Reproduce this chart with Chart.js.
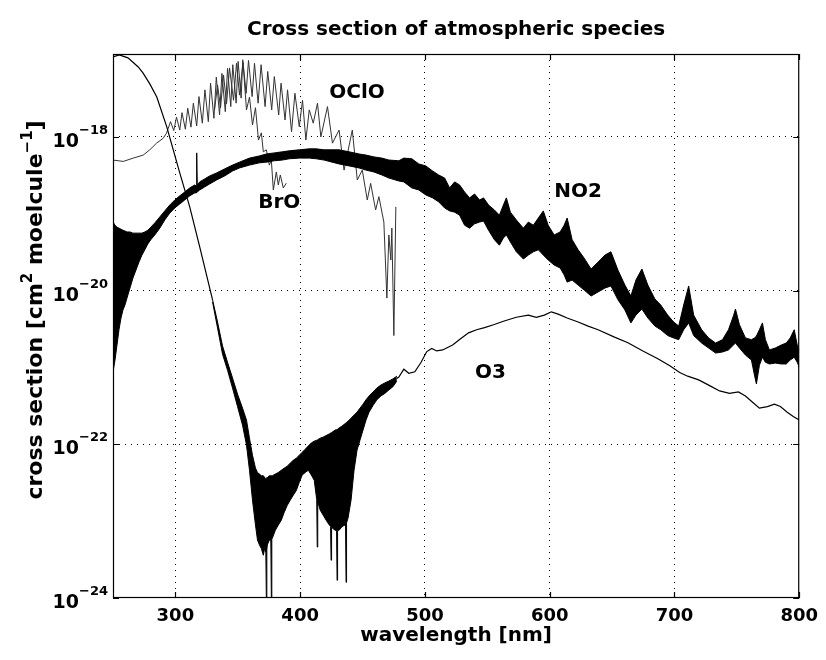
<!DOCTYPE html>
<html>
<head>
<meta charset="utf-8">
<script src="https://cdn.jsdelivr.net/npm/chart.js@4.4.0/dist/chart.umd.min.js"></script>
<style>
body { margin: 0; background: #fff; }
#wrap { width: 826px; height: 660px; }
</style>
</head>
<body>
<div id="wrap"><canvas id="chart" width="826" height="660"></canvas></div>
<script>
// ---- data (wavelength in nm, cross section in cm^2/molecule) ----
var xTicks = [300, 400, 500, 600, 700, 800];
var yTicks = [1e-24, 1e-22, 1e-20, 1e-18];
var yTickExp = ['\u221224', '\u221222', '\u221220', '\u221218'];

// NO2 : noisy band, upper and lower edge
var no2Wl = [250.0, 251.6, 253.2, 254.8, 256.4, 258.0, 259.6, 261.2, 263.6, 266.0,
	268.4, 270.8, 273.2, 275.5, 277.9, 280.3, 283.5, 287.5, 291.5, 295.5,
	299.5, 303.5, 307.5, 311.5, 315.5, 316.7, 317.1, 317.5, 319.5, 323.4,
	327.4, 333.0, 339.4, 345.8, 351.4, 359.4, 367.3, 372.9, 379.3, 385.7,
	391.3, 399.3, 407.3, 412.8, 419.2, 425.6, 431.2, 439.2, 447.2, 452.8,
	459.1, 465.5, 471.1, 479.1, 483.1, 489.5, 495.1, 500.7, 506.2, 511.0,
	515.8, 519.8, 523.8, 527.8, 531.8, 535.8, 539.8, 543.8, 547.0, 551.0,
	555.7, 559.7, 562.9, 565.3, 568.5, 573.3, 578.9, 582.9, 586.9, 590.9,
	594.9, 598.8, 603.6, 608.4, 611.6, 614.0, 618.0, 622.8, 627.6, 633.2,
	638.8, 644.3, 649.1, 654.7, 660.3, 665.1, 669.1, 673.9, 678.7, 684.3,
	689.0, 694.6, 699.4, 703.4, 707.4, 711.4, 715.4, 721.8, 727.4, 733.0,
	738.5, 743.3, 747.3, 748.9, 752.1, 756.9, 761.7, 764.1, 765.7, 768.1,
	770.5, 772.9, 776.1, 780.8, 785.6, 789.6, 792.8, 796.0, 798.4, 800.0];
var no2Hi = [7.8e-20, 7.1e-20, 6.7e-20, 6.5e-20, 6.3e-20, 6.1e-20, 5.97e-20, 5.8e-20, 5.8e-20, 5.6e-20,
	5.6e-20, 5.6e-20, 5.6e-20, 5.8e-20, 6.1e-20, 6.7e-20, 7.6e-20, 9.1e-20, 1.09e-19, 1.30e-19,
	1.51e-19, 1.71e-19, 1.92e-19, 2.17e-19, 2.37e-19, 2.3e-19, 6.2e-19, 2.37e-19, 2.6e-19, 2.84e-19,
	3.1e-19, 3.4e-19, 3.83e-19, 4.3e-19, 4.7e-19, 5.3e-19, 5.66e-19, 6.0e-19, 6.2e-19, 6.4e-19,
	6.6e-19, 6.8e-19, 7.0e-19, 7.0e-19, 6.8e-19, 6.8e-19, 6.8e-19, 6.4e-19, 6.0e-19, 5.8e-19,
	5.5e-19, 5.3e-19, 5.0e-19, 4.9e-19, 5.3e-19, 5.2e-19, 4.45e-19, 4.2e-19, 3.6e-19, 3.2e-19,
	2.92e-19, 2.17e-19, 2.6e-19, 2.37e-19, 1.92e-19, 1.61e-19, 1.81e-19, 1.51e-19, 1.61e-19, 1.30e-19,
	1.12e-19, 9.6e-20, 1.30e-19, 1.61e-19, 1.05e-19, 8.3e-20, 6.5e-20, 7.8e-20, 7.1e-20, 8.8e-20,
	1.09e-19, 7.1e-20, 5.3e-20, 5.8e-20, 7.1e-20, 8.8e-20, 4.6e-20, 3.4e-20, 2.65e-20, 1.91e-20,
	2.35e-20, 2.9e-20, 3.2e-20, 1.85e-20, 1.18e-20, 8.5e-21, 1.37e-20, 1.91e-20, 1.18e-20, 7.8e-21,
	6.5e-21, 4.8e-21, 3.9e-21, 3.46e-21, 6.5e-21, 1.15e-20, 4.8e-21, 3.1e-21, 2.42e-21, 2.08e-21,
	2.3e-21, 3.1e-21, 4.7e-21, 5.75e-21, 3.6e-21, 2.42e-21, 2.3e-21, 2.42e-21, 2.56e-21, 3.1e-21,
	3.8e-21, 2.3e-21, 1.69e-21, 1.79e-21, 1.96e-21, 2.08e-21, 2.42e-21, 3.1e-21, 1.96e-21, 1.69e-21];
var no2Lo = [8.7e-22, 1.25e-21, 1.96e-21, 3.1e-21, 4.4e-21, 5.6e-21, 6.5e-21, 8.0e-21, 1.08e-20, 1.46e-20,
	1.85e-20, 2.35e-20, 2.9e-20, 3.4e-20, 4.05e-20, 4.6e-20, 5.3e-20, 6.5e-20, 8.3e-20, 1.02e-19,
	1.19e-19, 1.34e-19, 1.51e-19, 1.71e-19, 1.87e-19, 1.87e-19, 1.87e-19, 1.92e-19, 2.04e-19, 2.23e-19,
	2.44e-19, 2.75e-19, 3.1e-19, 3.6e-19, 3.95e-19, 4.3e-19, 4.6e-19, 4.7e-19, 4.9e-19, 5.0e-19,
	5.2e-19, 5.3e-19, 5.3e-19, 5.2e-19, 5.0e-19, 4.7e-19, 4.45e-19, 4.2e-19, 3.95e-19, 3.7e-19,
	3.5e-19, 3.2e-19, 2.92e-19, 2.67e-19, 2.6e-19, 2.17e-19, 2.04e-19, 1.76e-19, 1.61e-19, 1.43e-19,
	1.19e-19, 1.09e-19, 1.05e-19, 9.6e-20, 7.1e-20, 6.5e-20, 7.4e-20, 7.8e-20, 8.05e-20, 6.1e-20,
	4.6e-20, 3.9e-20, 4.85e-20, 5.3e-20, 4.3e-20, 3.2e-20, 2.58e-20, 2.9e-20, 3.2e-20, 3.4e-20,
	2.9e-20, 2.5e-20, 2.15e-20, 1.97e-20, 1.6e-20, 1.29e-20, 1.37e-20, 1.18e-20, 1.02e-20, 8.5e-21,
	9.6e-21, 1.08e-20, 1.15e-20, 7.6e-21, 5.6e-21, 3.8e-21, 4.8e-21, 5.75e-21, 4.4e-21, 3.46e-21,
	3.1e-21, 2.6e-21, 2.42e-21, 2.3e-21, 3.1e-21, 3.8e-21, 2.6e-21, 2.08e-21, 1.79e-21, 1.54e-21,
	1.59e-21, 1.69e-21, 1.96e-21, 2.08e-21, 1.79e-21, 1.45e-21, 1.25e-21, 8.0e-22, 6.1e-22, 1.07e-21,
	1.36e-21, 1.17e-21, 1.11e-21, 1.14e-21, 1.11e-21, 1.11e-21, 1.25e-21, 1.36e-21, 1.17e-21, 1.01e-21];

// O3 : Hartley band (smooth), Huggins band (noisy), Chappuis band (smooth)
var o3UvWl = [250.0, 255.0, 262.0, 270.0, 274.0, 279.5, 285.1, 293.1, 303.5, 311.5, 319.5, 329.8];
var o3UvSigma = [1.1e-17, 1.17e-17, 1.07e-17, 8.2e-18, 6.8e-18, 4.9e-18, 3.3e-18, 1.35e-18, 3.4e-19, 1.23e-19, 3.7e-20, 7.6e-21];

var o3BandWl = [329.8, 333.8, 337.8, 341.8, 345.8, 349.8, 353.8, 357.0, 359.4, 361.8,
	364.2, 365.8, 367.4, 368.9, 370.5, 372.1, 372.5, 372.9, 373.3, 373.7,
	375.3, 376.5, 376.9, 377.3, 377.7, 380.1, 382.5, 384.9, 387.3, 389.7,
	392.1, 394.5, 396.9, 399.3, 401.7, 404.1, 406.5, 408.9, 411.3, 413.3,
	413.7, 414.1, 416.0, 418.4, 420.8, 423.2, 424.4, 424.8, 425.2, 428.0,
	429.2, 429.6, 430.0, 431.2, 433.6, 436.4, 436.8, 437.2, 438.4, 440.8,
	443.2, 445.6, 448.0, 450.4, 452.8, 455.2, 458.4, 461.5, 464.7, 467.9,
	471.1, 474.3, 477.5];
var o3BandHi = [7.6e-21, 3.9e-21, 1.9e-21, 1.17e-21, 7.3e-22, 4.5e-22, 2.96e-22, 2.07e-22, 1.2e-22, 7.2e-23,
	4.9e-23, 4.3e-23, 4.1e-23, 3.9e-23, 3.9e-23, 3.6e-23, 3.6e-23, 3.6e-23, 3.7e-23, 3.7e-23,
	3.9e-23, 3.9e-23, 3.9e-23, 3.9e-23, 3.9e-23, 4.1e-23, 4.3e-23, 4.6e-23, 4.9e-23, 5.2e-23,
	5.7e-23, 6.2e-23, 6.6e-23, 7.2e-23, 7.9e-23, 8.65e-23, 9.5e-23, 1.04e-22, 1.10e-22, 1.13e-22,
	1.14e-22, 1.15e-22, 1.2e-22, 1.24e-22, 1.30e-22, 1.36e-22, 1.40e-22, 1.41e-22, 1.42e-22, 1.53e-22,
	1.55e-22, 1.56e-22, 1.58e-22, 1.63e-22, 1.73e-22, 1.88e-22, 1.9e-22, 1.93e-22, 2.0e-22, 2.19e-22,
	2.4e-22, 2.62e-22, 2.96e-22, 3.33e-22, 3.8e-22, 4.25e-22, 4.8e-22, 5.4e-22, 5.9e-22, 6.3e-22,
	6.65e-22, 7.1e-22, 7.7e-22];
var o3BandLo = [7.1e-21, 3.26e-21, 1.49e-21, 9.2e-22, 5.4e-22, 3.1e-22, 1.78e-22, 9.8e-23, 4.6e-23, 1.88e-23,
	8.9e-24, 5.7e-24, 4.9e-24, 4.4e-24, 3.6e-24, 4.9e-24, 4.0e-24, 1.0e-24, 4.2e-24, 4.9e-24,
	5.7e-24, 5.5e-24, 1.0e-24, 5.8e-24, 6.0e-24, 7.6e-24, 8.9e-24, 1.03e-23, 1.31e-23, 1.61e-23,
	1.88e-23, 2.18e-23, 2.5e-23, 3.2e-23, 4.0e-23, 4.3e-23, 4.6e-23, 4.0e-23, 3.4e-23, 1.9e-23,
	4.6e-24, 1.8e-23, 1.4e-23, 1.2e-23, 1.03e-23, 9.0e-24, 8.5e-24, 3.1e-24, 8.3e-24, 7.6e-24,
	7.6e-24, 1.7e-24, 7.6e-24, 7.6e-24, 8.5e-24, 9.0e-24, 1.6e-24, 9.5e-24, 1.1e-23, 1.88e-23,
	4.6e-23, 8.4e-23, 1.14e-22, 1.53e-22, 2.07e-22, 2.62e-22, 3.2e-22, 3.8e-22, 4.25e-22, 4.6e-22,
	5.1e-22, 5.6e-22, 6.65e-22];

var o3VisWl = [477.5, 479.1, 483.1, 487.1, 491.9, 496.7, 501.5, 505.5, 509.4, 514.2,
	522.2, 528.6, 535.0, 541.4, 547.8, 555.0, 562.9, 573.3, 582.9, 589.3,
	595.7, 601.3, 606.8, 614.0, 622.8, 630.8, 638.8, 651.5, 662.7, 674.7,
	686.7, 696.3, 704.2, 710.6, 719.4, 728.2, 736.2, 744.1, 751.3, 756.9,
	763.3, 768.1, 774.5, 780.1, 784.9, 790.4, 795.2, 800.0];
var o3VisSigma = [7.2e-22, 7.5e-22, 9.5e-22, 8.4e-22, 8.8e-22, 1.15e-21, 1.61e-21, 1.77e-21, 1.64e-21, 1.69e-21,
	1.96e-21, 2.36e-21, 2.82e-21, 3.1e-21, 3.3e-21, 3.6e-21, 4.0e-21, 4.5e-21, 4.8e-21, 4.5e-21,
	4.8e-21, 5.3e-21, 4.95e-21, 4.4e-21, 3.9e-21, 3.45e-21, 3.1e-21, 2.5e-21, 2.1e-21, 1.64e-21,
	1.3e-21, 1.05e-21, 8.6e-22, 7.7e-22, 6.9e-22, 5.8e-22, 4.95e-22, 4.6e-22, 4.8e-22, 4.25e-22,
	3.45e-22, 2.96e-22, 3.1e-22, 3.33e-22, 3.1e-22, 2.62e-22, 2.3e-22, 2.07e-22];

// OClO
var ocloWl = [250.0, 258.2, 266.2, 274.2, 279.5, 284.9, 290.2, 292.9, 296.1, 298.7,
	300.9, 303.5, 305.3, 308.0, 309.9, 312.5, 314.4, 317.1, 318.9, 321.6,
	323.7, 326.4, 328.2, 330.9, 332.8, 335.4, 337.3, 340.0, 341.8, 344.4,
	346.0, 348.7, 350.3, 352.7, 354.0, 356.7, 358.6, 361.5, 363.4, 366.3,
	368.7, 371.9, 374.0, 377.2, 379.3, 382.8, 384.7, 387.9, 389.9, 393.1,
	395.8, 399.3, 401.9, 404.6, 407.3, 410.5, 413.9, 416.6, 421.9, 425.9,
	431.2, 435.2, 441.8, 445.8, 449.8, 453.8, 456.5, 460.5, 463.1, 467.1,
	469.5, 471.1, 472.7, 473.5, 475.1, 476.7];
var ocloSigma = [5.0e-19, 4.8e-19, 5.3e-19, 5.8e-19, 6.8e-19, 8.3e-19, 9.6e-19, 1.12e-18, 1.58e-18, 1.21e-18,
	1.81e-18, 1.23e-18, 2.07e-18, 1.26e-18, 2.36e-18, 1.34e-18, 2.75e-18, 1.39e-18, 3.35e-18, 1.51e-18,
	4.1e-18, 1.58e-18, 5.0e-18, 1.75e-18, 6.0e-18, 1.93e-18, 6.7e-18, 2.13e-18, 7.8e-18, 2.48e-18,
	8.7e-18, 2.75e-18, 9.6e-18, 3.2e-18, 1.01e-17, 3.7e-18, 9.9e-18, 3.35e-18, 9.1e-18, 2.75e-18,
	8.7e-18, 2.48e-18, 7.1e-18, 2.25e-18, 6.1e-18, 1.93e-18, 5.0e-18, 1.66e-18, 4.1e-18, 1.17e-18,
	3.7e-18, 1.36e-18, 3.0e-18, 9.1e-19, 2.25e-18, 1.51e-18, 2.75e-18, 1.0e-18, 2.48e-18, 8.3e-19,
	1.23e-18, 3.7e-19, 1.23e-18, 2.75e-19, 3.7e-19, 1.51e-19, 2.49e-19, 1.12e-19, 1.67e-19, 7.8e-20,
	8.0e-21, 5.3e-20, 2.5e-20, 6.5e-20, 2.6e-21, 1.23e-19];

// BrO
var broWl = [331.4, 333.8, 336.2, 338.6, 341.0, 343.4, 346.6, 349.0, 351.4, 354.2,
	357.0, 359.4, 361.8, 364.2, 366.6, 368.9, 370.5, 372.9, 375.3, 376.9,
	378.5, 380.9, 382.5, 384.1, 386.5, 388.9];
var broSigma = [2.25e-18, 4.75e-18, 2.4e-18, 6.4e-18, 2.7e-18, 7.9e-18, 3.0e-18, 9.1e-18, 3.5e-18, 9.4e-18,
	2.25e-18, 3.3e-18, 1.43e-18, 2.4e-18, 9.1e-19, 1.13e-18, 6.4e-19, 6.8e-19, 4.3e-19, 5.0e-19,
	2.04e-19, 3.5e-19, 2.37e-19, 3.2e-19, 2.17e-19, 2.5e-19];

var chartTitle = 'Cross section of atmospheric species';
var xTitle = 'wavelength [nm]';
var seriesNames = ['OClO', 'BrO', 'NO2', 'O3'];

// where the species names sit (wavelength, cross section)
var nameAt = [[445.6, 3.7e-18], [383.3, 1.38e-19], [622.8, 1.92e-19], [552.6, 8.4e-22]];

function pts(xs, ys) {
	return xs.map(function(v, i) { return { x: v, y: ys[i] }; });
}
function curve(data, color, w) {
	return { data: data, borderColor: color, borderWidth: w, pointRadius: 0, fill: false, tension: 0 };
}

var FONT = '"DejaVu Sans", "Liberation Sans", sans-serif';

// frame, ticks, texts
var decor = {
	id: 'decor',
	beforeDraw: function(chart) {
		var c = chart.ctx;
		c.save();
		c.fillStyle = '#fff';
		c.fillRect(0, 0, chart.width, chart.height);
		c.restore();
	},
	afterDraw: function(chart) {
		var c = chart.ctx, a = chart.chartArea;
		var sx = chart.scales.x, sy = chart.scales.y;
		c.save();
		c.strokeStyle = '#000';
		c.lineWidth = 1.2;
		c.strokeRect(a.left + 0.5, a.top + 0.5, a.right - a.left - 1, a.bottom - a.top - 1);
		c.beginPath();
		xTicks.forEach(function(v) {
			var p = Math.round(sx.getPixelForValue(v)) + 0.5;
			c.moveTo(p, a.bottom); c.lineTo(p, a.bottom - 6);
			c.moveTo(p, a.top); c.lineTo(p, a.top + 6);
		});
		yTicks.forEach(function(v) {
			var p = Math.round(sy.getPixelForValue(v)) + 0.5;
			c.moveTo(a.left, p); c.lineTo(a.left + 6, p);
			c.moveTo(a.right, p); c.lineTo(a.right - 6, p);
		});
		c.stroke();

		c.fillStyle = '#000';
		c.textBaseline = 'alphabetic';
		// y tick labels 10^-n
		yTicks.forEach(function(v, i) {
			var p = sy.getPixelForValue(v);
			c.font = 'bold 13px ' + FONT;
			var ew = c.measureText(yTickExp[i]).width;
			c.font = 'bold 19px ' + FONT;
			var bw = c.measureText('10').width;
			var r = a.left - 5;
			c.textAlign = 'left';
			c.fillText('10', r - ew - bw, p + 10);
			c.font = 'bold 13px ' + FONT;
			c.fillText(yTickExp[i], r - ew, p - 3);
		});

		// title + x label
		c.textAlign = 'center';
		c.font = 'bold 20px ' + FONT;
		c.fillText(chartTitle, (a.left + a.right) / 2, 35);
		c.fillText(xTitle, (a.left + a.right) / 2, 641);

		// y label with superscripts
		var parts = [['cross section [cm', 0], ['2', 1], [' moelcule', 0], ['\u22121', 1], [']', 0]];
		var total = 0;
		parts.forEach(function(pt) {
			c.font = 'bold ' + (pt[1] ? 15 : 22) + 'px ' + FONT;
			pt.w = c.measureText(pt[0]).width;
			total += pt.w;
		});
		c.save();
		c.translate(42, 310);
		c.rotate(-Math.PI / 2);
		c.textAlign = 'left';
		var xx = -total / 2;
		parts.forEach(function(pt) {
			c.font = 'bold ' + (pt[1] ? 15 : 22) + 'px ' + FONT;
			c.fillText(pt[0], xx, pt[1] ? -10 : 0);
			xx += pt.w;
		});
		c.restore();

		// species names
		c.textAlign = 'center';
		c.textBaseline = 'middle';
		c.font = 'bold 20px ' + FONT;
		seriesNames.forEach(function(n, i) {
			c.fillText(n, sx.getPixelForValue(nameAt[i][0]), sy.getPixelForValue(nameAt[i][1]));
		});
		c.restore();
	}
};

var datasets = [
	{ data: pts(no2Wl, no2Hi), borderColor: '#000', borderWidth: 1, pointRadius: 0, fill: '+1', backgroundColor: '#000', tension: 0 },
	curve(pts(no2Wl, no2Lo), '#000', 1),
	{ data: pts(o3BandWl, o3BandHi), borderColor: '#000', borderWidth: 1, pointRadius: 0, fill: '+1', backgroundColor: '#000', tension: 0 },
	curve(pts(o3BandWl, o3BandLo), '#000', 1),
	curve(pts(o3UvWl, o3UvSigma), '#000', 1.2),
	curve(pts(o3VisWl, o3VisSigma), '#000', 1.2),
	curve(pts(ocloWl, ocloSigma), '#333', 1),
	curve(pts(broWl, broSigma), '#333', 1)
];

var chart = new Chart(document.getElementById('chart'), {
	type: 'line',
	data: { datasets: datasets },
	options: {
		responsive: false,
		animation: false,
		devicePixelRatio: 1,
		layout: { padding: { left: 0, right: 24, top: 54, bottom: 0 } },
		plugins: { legend: { display: false }, tooltip: { enabled: false } },
		scales: {
			x: {
				type: 'linear', min: 250, max: 800,
				afterBuildTicks: function(s) { s.ticks = xTicks.map(function(v) { return { value: v }; }); },
				afterFit: function(s) { s.height = 62; },
				grid: {
					color: function(c) { return c.tick && c.tick.value === 800 ? 'rgba(0,0,0,0)' : '#000'; },
					lineWidth: 1, drawTicks: false
				},
				border: { display: false, dash: [1, 5] },
				ticks: { color: '#000', font: { family: FONT, size: 18, weight: 'bold' }, padding: 8, maxRotation: 0, autoSkip: false }
			},
			y: {
				type: 'logarithmic', min: 1e-24, max: 1.2e-17,
				afterBuildTicks: function(s) { s.ticks = yTicks.map(function(v) { return { value: v }; }); },
				afterFit: function(s) { s.width = 113; },
				grid: {
					color: function(c) { return c.tick && c.tick.value === 1e-24 ? 'rgba(0,0,0,0)' : '#000'; },
					lineWidth: 1, drawTicks: false
				},
				border: { display: false, dash: [1, 5] },
				ticks: { display: false }
			}
		}
	},
	plugins: [decor]
});
</script>
</body>
</html>
